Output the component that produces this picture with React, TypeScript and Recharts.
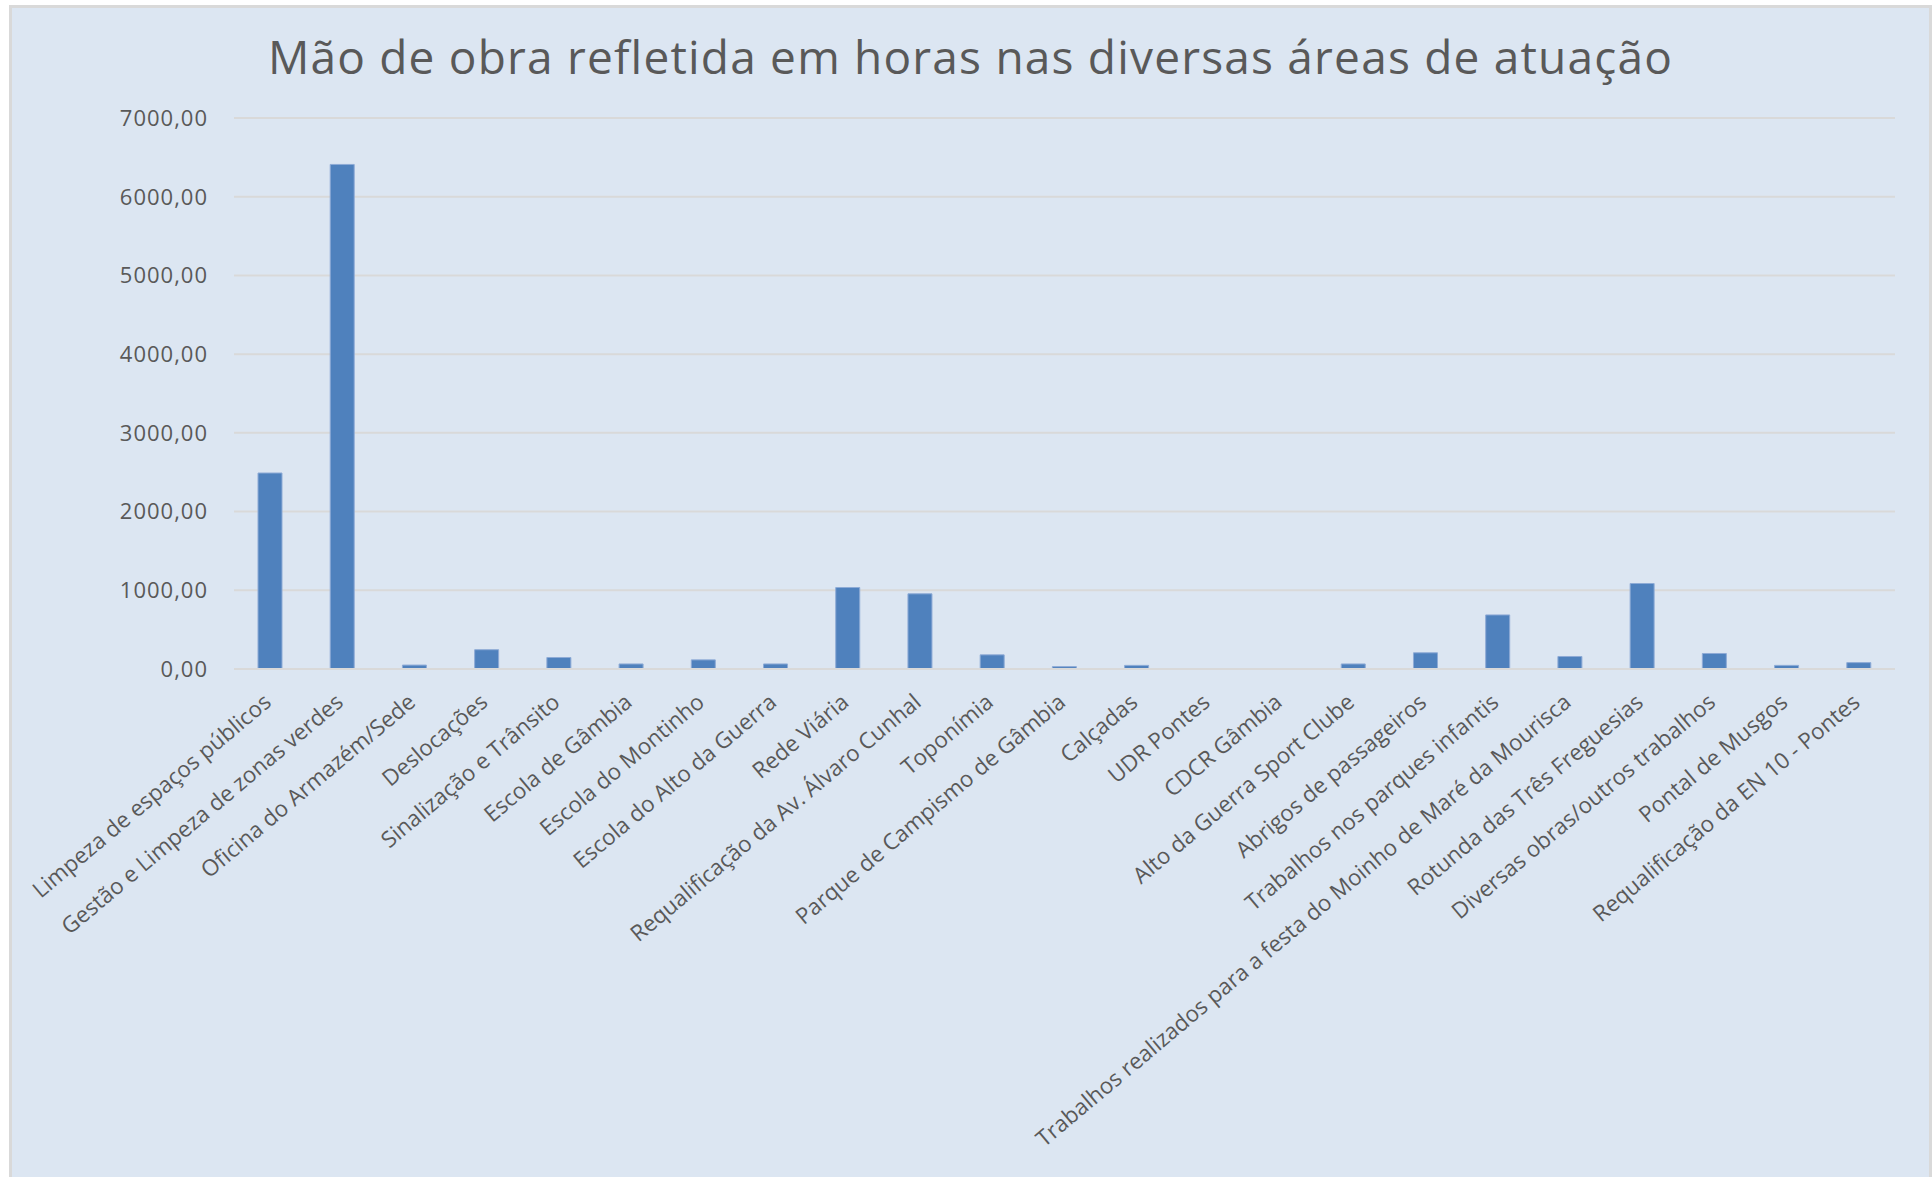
import React from 'react';
import { BarChart, Bar, XAxis, YAxis, CartesianGrid } from 'recharts';

const categories: string[] = [
  'Limpeza de espaços públicos',
  'Gestão e Limpeza de zonas verdes',
  'Oficina do Armazém/Sede',
  'Deslocações',
  'Sinalização e Trânsito',
  'Escola de Gâmbia',
  'Escola do Montinho',
  'Escola do Alto da Guerra',
  'Rede Viária',
  'Requalificação da Av. Álvaro Cunhal',
  'Toponímia',
  'Parque de Campismo de Gâmbia',
  'Calçadas',
  'UDR Pontes',
  'CDCR Gâmbia',
  'Alto da Guerra Sport Clube',
  'Abrigos de passageiros',
  'Trabalhos nos parques infantis',
  'Trabalhos realizados para a festa do Moinho de Maré da Mourisca',
  'Rotunda das Três Freguesias',
  'Diversas obras/outros trabalhos',
  'Pontal de Musgos',
  'Requalificação da EN 10 - Pontes',
];

const hours: number[] = [
  2490, 6410, 50, 245, 146, 64, 116, 64, 1035, 955, 180, 30, 46, 0, 0, 64, 206, 687, 159, 1086, 197, 46, 81,
];

const yTicks: number[] = [0, 1000, 2000, 3000, 4000, 5000, 6000, 7000];

const title = 'Mão de obra refletida em horas nas diversas áreas de atuação';

const data = categories.map((name, i) => ({ name, value: hours[i] }));

const FONT = '"Open Sans", "Noto Sans", sans-serif';
const TEXT = '#595959';

const fmt = (v: number) => v.toFixed(2).replace('.', ',');

const XTick = (props: any) => {
  const { x, y, payload } = props;
  return (
    <g transform={`translate(${x - 3},${y + 21})`}>
      <text
        transform="rotate(-40)"
        textAnchor="end"
        dominantBaseline="central"
        fill={TEXT}
        fontSize={22.4}
        fontFamily={FONT}
      >
        {payload.value}
      </text>
    </g>
  );
};

export default function App() {
  return (
    <div
      style={{
        position: 'absolute',
        left: 9,
        top: 5,
        width: 1923,
        height: 1172,
        boxSizing: 'border-box',
        border: '3px solid #D9D9D9',
        borderBottom: 'none',
        background: '#DCE6F2',
        overflow: 'hidden',
      }}
    >
      <div
        style={{
          position: 'absolute',
          left: 0,
          top: 17,
          width: 1917,
          textAlign: 'center',
          fontFamily: FONT,
          fontSize: 46,
          letterSpacing: 1.2,
          lineHeight: '62px',
          color: TEXT,
          whiteSpace: 'nowrap',
        }}
      >
        {title}
      </div>
      <BarChart
        width={1917}
        height={1169}
        data={data}
        margin={{ top: 110, right: 34, left: 0, bottom: 0 }}
      >
        <CartesianGrid vertical={false} stroke="#D9D9D9" strokeWidth={2} />
        <XAxis
          dataKey="name"
          interval={0}
          height={508}
          tickLine={false}
          axisLine={{ stroke: '#D9D9D9', strokeWidth: 2 }}
          tick={<XTick />}
        />
        <YAxis
          width={222}
          domain={[0, 7000]}
          ticks={yTicks}
          axisLine={false}
          tickLine={false}
          tickSize={0}
          tickMargin={26}
          tickFormatter={fmt}
          tick={{ fill: TEXT, fontSize: 22, fontFamily: FONT, letterSpacing: 1 }}
        />
        <Bar
          dataKey="value"
          fill="#4F81BD"
          stroke="#8EABD6"
          strokeWidth={1}
          barSize={24}
          isAnimationActive={false}
        />
      </BarChart>
    </div>
  );
}
